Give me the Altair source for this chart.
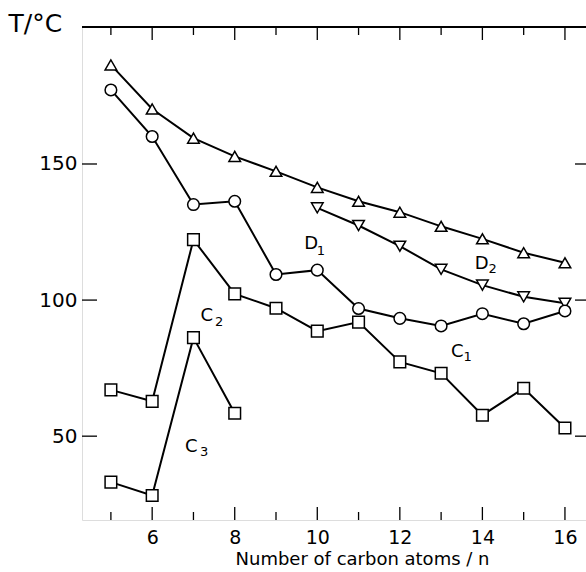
import altair as alt
import pandas as pd

# ---- data ----
n_all = [5, 6, 7, 8, 9, 10, 11, 12, 13, 14, 15, 16]
d_upper = [186.4, 170.2, 159.5, 152.8, 147.3, 141.4, 136.3, 132.3, 127.1, 122.5, 117.4, 113.7]
n_d_lower = [10, 11, 12, 13, 14, 15, 16]
d_lower = [133.9, 127.4, 119.8, 111.3, 105.5, 101.2, 98.8]
c1 = [177.2, 160.1, 135.1, 136.3, 109.4, 111.0, 96.9, 93.3, 90.5, 95.0, 91.3, 96.0]
c2 = [67.0, 62.8, 122.2, 102.3, 97.0, 88.6, 91.9, 77.3, 73.1, 57.7, 67.6, 53.0]
n_c3 = [5, 6, 7, 8]
c3 = [33.1, 28.2, 86.2, 58.4]

label_main = ["D", "D", "C", "C", "C"]
label_sub = ["1", "2", "1", "2", "3"]
main_x = [9.85, 13.98, 13.39, 7.32, 6.95]
main_y = [118.6, 111.3, 79.2, 92.3, 44.2]
sub_x = [10.09, 14.25, 13.64, 7.62, 7.26]
sub_y = [116.6, 109.8, 77.6, 90.5, 42.7]

x_major = [6, 8, 10, 12, 14, 16]
x_minor = [5, 7, 9, 11, 13, 15]
y_ticks = [50, 100, 150]

# ---- tables ----
rows = []
for name, xs_, ys_ in [("Dup", n_all, d_upper), ("Dlow", n_d_lower, d_lower),
                        ("C1", n_all, c1), ("C2", n_all, c2), ("C3", n_c3, c3)]:
    for a, b in zip(xs_, ys_):
        rows.append({"series": name, "n": a, "T": b})
df = pd.DataFrame(rows)

lab_main = pd.DataFrame({"n": main_x, "T": main_y, "text": label_main})
lab_sub = pd.DataFrame({"n": sub_x, "T": sub_y, "text": label_sub})

W, H = 504, 494
FONT = "DejaVu Sans"

xs = alt.Scale(domain=[4.3, 16.51], nice=False, zero=False)
ys = alt.Scale(domain=[19.2, 200.7], nice=False, zero=False)

xaxis = alt.Axis(values=x_major, tickSize=0, ticks=False, domain=False, grid=False,
                 labelFont=FONT, labelFontSize=19, labelPadding=8, labelColor="black",
                 format="d",
                 title="Number of carbon atoms / n", titleFont=FONT, titleFontSize=18,
                 titleFontWeight="normal", titleColor="black",
                 titleX=280, titleY=44, titleAlign="center", titleBaseline="alphabetic")
yaxis = alt.Axis(values=y_ticks, tickSize=0, ticks=False, domain=False, grid=False,
                 labelFont=FONT, labelFontSize=20, labelPadding=5, labelColor="black",
                 format="d",
                 title="T/°C", titleFont=FONT, titleFontSize=25, titleFontWeight="normal",
                 titleColor="black", titleAngle=0, titleX=-74, titleY=5,
                 titleAlign="left", titleBaseline="alphabetic")

X = alt.X("n:Q", scale=xs, axis=xaxis)
Y = alt.Y("T:Q", scale=ys, axis=yaxis)

lines = alt.Chart(df).mark_line(color="black", strokeWidth=2).encode(
    x=X, y=Y, detail="series:N", order="n:Q")

points = alt.Chart(df).mark_point(filled=True, fill="white", stroke="black",
                                  strokeWidth=1.5, opacity=1).encode(
    x=X, y=Y,
    shape=alt.Shape("series:N",
                    scale=alt.Scale(domain=["Dup", "Dlow", "C1", "C2", "C3"],
                                    range=["triangle-up", "triangle-down", "circle", "square", "square"]),
                    legend=None),
    size=alt.Size("series:N",
                  scale=alt.Scale(domain=["Dup", "Dlow", "C1", "C2", "C3"],
                                  range=[135, 135, 120, 85, 85]),
                  legend=None),
)

t_main = alt.Chart(lab_main).mark_text(font=FONT, fontSize=18, color="black",
                                       align="center", baseline="alphabetic").encode(
    x=X, y=Y, text="text:N")
t_sub = alt.Chart(lab_sub).mark_text(font=FONT, fontSize=13, color="black",
                                     align="center", baseline="alphabetic").encode(
    x=X, y=Y, text="text:N")

def xrule(vals, y1, y2):
    return alt.Chart(pd.DataFrame({"n": vals})).mark_rule(color="black", strokeWidth=1.3).encode(
        x=X, y=alt.value(y1), y2=alt.value(y2))

def yrule(vals, x1, x2):
    return alt.Chart(pd.DataFrame({"T": vals})).mark_rule(color="black", strokeWidth=1.3).encode(
        y=Y, x=alt.value(x1), x2=alt.value(x2))

top_border = alt.Chart(pd.DataFrame({"n": [6]})).mark_rule(color="black", strokeWidth=2).encode(
    x=alt.value(0), x2=alt.value(W), y=alt.value(1))

ticks = [
    xrule(x_major, H, H - 13),
    xrule(x_minor, H, H - 8),
    xrule(x_major, 0, 14),
    xrule(x_minor, 0, 9),
    yrule(y_ticks, 0, 15),
    yrule(y_ticks, W, W - 11),
]

chart = alt.layer(lines, points, t_main, t_sub, top_border, *ticks).properties(
    width=W, height=H,
    padding={"left": 82, "top": 26, "right": 0, "bottom": 52},
    autosize=alt.AutoSizeParams(type="none"),
).configure_view(stroke="black", strokeWidth=1.3).configure(background="white")

chart.save("out.html", embed_options={"renderer": "svg", "actions": False})
